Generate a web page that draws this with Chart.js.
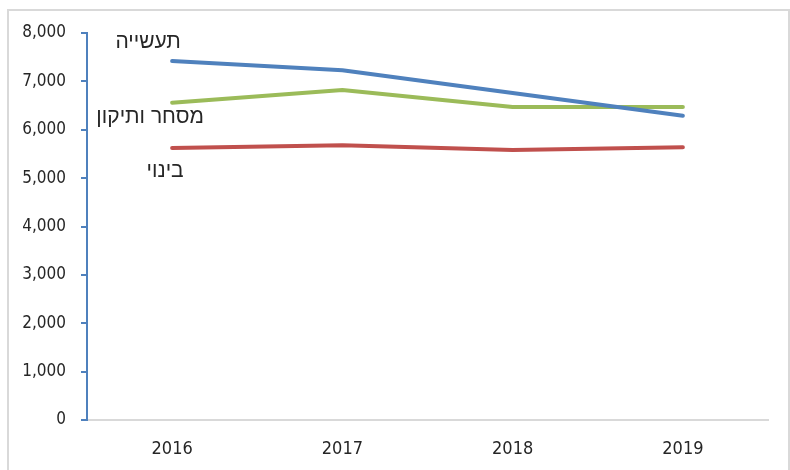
<!DOCTYPE html>
<html>
<head>
<meta charset="utf-8">
<script src="https://cdn.jsdelivr.net/npm/chart.js@4"></script>
<style>
html,body{margin:0;padding:0;background:#fff;}
</style>
</head>
<body>
<canvas id="c" width="790" height="470"></canvas>
<script>
const categories = ['2016', '2017', '2018', '2019'];
const industry = [7420, 7230, 6760, 6290];   // תעשייה
const commerce = [6560, 6820, 6470, 6470];   // מסחר ותיקון
const construction = [5625, 5680, 5580, 5640]; // בינוי
const seriesNames = ['תעשייה', 'מסחר ותיקון', 'בינוי'];
const yTicks = [0, 1000, 2000, 3000, 4000, 5000, 6000, 7000, 8000];

const FONT = '"DejaVu Sans Condensed", "Liberation Sans", sans-serif';

const frame = {
  id: 'frame',
  beforeDraw(chart) {
    const ctx = chart.ctx;
    ctx.save();
    ctx.fillStyle = '#fff';
    ctx.fillRect(0, 0, chart.width, chart.height);
    ctx.strokeStyle = '#D9D9D9';
    ctx.lineWidth = 2;
    ctx.strokeRect(8, 10, 781, 470);
    ctx.restore();
  }
};

const labelPlugin = {
  id: 'seriesLabels',
  afterDatasetsDraw(chart, args, opts) {
    const ctx = chart.ctx;
    const xs = chart.scales.x, ys = chart.scales.y;
    ctx.save();
    ctx.font = opts.font;
    ctx.fillStyle = '#262626';
    ctx.textAlign = 'center';
    ctx.textBaseline = 'middle';
    ctx.direction = 'rtl';
    opts.anchors.forEach((a, i) => {
      ctx.fillText(seriesNames[i], xs.getPixelForValue(0) + a.dx, ys.getPixelForValue(a.y));
    });
    ctx.restore();
  }
};

new Chart(document.getElementById('c'), {
  type: 'line',
  data: {
    labels: categories,
    datasets: [
      { label: seriesNames[0], data: industry, borderColor: '#4F81BD' },
      { label: seriesNames[1], data: commerce, borderColor: '#9BBB59' },
      { label: seriesNames[2], data: construction, borderColor: '#C0504D' }
    ].map(d => Object.assign(d, { borderWidth: 4, pointRadius: 0, tension: 0, fill: false, borderCapStyle: 'round', borderJoinStyle: 'round' }))
  },
  options: {
    responsive: false,
    animation: false,
    layout: { padding: { left: 0, right: 22, top: 33, bottom: 0 } },
    plugins: {
      legend: { display: false },
      tooltip: { enabled: false },
      seriesLabels: {
        font: '21px "Liberation Sans", Arial, sans-serif',
        anchors: [ { dx: -24, y: 7800 }, { dx: -22, y: 6250 }, { dx: -7, y: 5140 } ]
      }
    },
    scales: {
      x: {
        type: 'category',
        offset: true,
        grid: { display: false, drawTicks: false },
        border: { color: '#D9D9D9', width: 2 },
        ticks: { color: '#262626', font: { family: FONT, size: 18 }, padding: 19, maxRotation: 0 },
        afterFit(s) { s.height = 50; }
      },
      y: {
        min: 0, max: 8000,
        afterBuildTicks(s) { s.ticks = yTicks.map(v => ({ value: v })); },
        grid: { display: true, drawOnChartArea: false, drawTicks: true, tickLength: 6, color: '#4F81BD', lineWidth: 2 },
        border: { color: '#4F81BD', width: 2 },
        ticks: {
          color: '#262626', font: { family: FONT, size: 17 }, padding: 15,
          callback: v => v.toLocaleString('en-US')
        },
        afterFit(s) { s.width = 87; }
      }
    }
  },
  plugins: [frame, labelPlugin]
});
</script>
</body>
</html>
